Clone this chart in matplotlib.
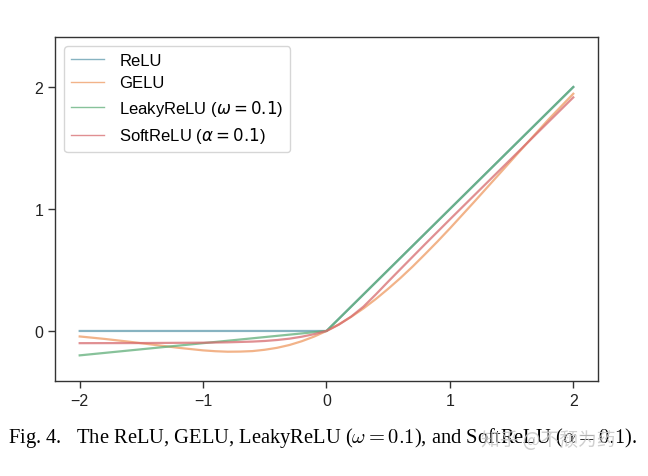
import matplotlib
matplotlib.use("Agg")
import matplotlib.pyplot as plt

# Data
relu_x = [-2, 0, 2]
relu_y = [0, 0, 2]

gelu_x = [-2.0, -1.8, -1.6, -1.4, -1.2, -1.0, -0.9, -0.8, -0.7, -0.6, -0.5, -0.4, -0.3,
          -0.2, -0.1, 0.0, 0.1, 0.2, 0.3, 0.4, 0.5, 0.6, 0.7, 0.8, 0.9, 1.0, 1.2, 1.4,
          1.6, 1.8, 2.0]
gelu_y = [-0.045, -0.065, -0.088, -0.113, -0.138, -0.159, -0.166, -0.170, -0.169, -0.165,
          -0.154, -0.138, -0.115, -0.084, -0.046, 0.0, 0.054, 0.116, 0.185, 0.262, 0.346,
          0.435, 0.530, 0.631, 0.734, 0.841, 1.062, 1.287, 1.512, 1.735, 1.945]

leaky_x = [-2, 0, 2]
leaky_y = [-0.2, 0, 2]

soft_x = [-2.0, -1.5, -1.0, -0.8, -0.6, -0.5, -0.4, -0.3, -0.2, -0.1, 0.0, 0.1, 0.2, 0.3,
          0.4, 0.5, 0.6, 0.8, 1.0, 1.5, 2.0]
soft_y = [-0.100, -0.099, -0.096, -0.093, -0.087, -0.082, -0.074, -0.063, -0.047, -0.026,
          0.0, 0.052, 0.118, 0.200, 0.300, 0.405, 0.508, 0.713, 0.915, 1.415, 1.915]

labels = ["ReLU", "GELU", r"LeakyReLU ($\omega = 0.1$)", r"SoftReLU ($\alpha = 0.1$)"]
colors = ["#5f9aad", "#ee9a62", "#5fae78", "#d66a6e"]

xticks = [-2, -1, 0, 1, 2]
yticks = [0, 1, 2]

plt.rcParams['font.family'] = ['Liberation Sans', 'DejaVu Sans']

fig = plt.figure(figsize=(6.48, 4.77), dpi=100)
ax = fig.add_axes([0.0849, 0.1992, 0.8379, 0.7211])

series = [(relu_x, relu_y), (gelu_x, gelu_y), (leaky_x, leaky_y), (soft_x, soft_y)]
for (xs, ys), lab, c in zip(series, labels, colors):
    ax.plot(xs, ys, color=c, alpha=0.75, lw=1.6, label=lab)

ax.set_xlim(-2.2, 2.2)
ax.set_ylim(-0.41, 2.41)
ax.set_xticks(xticks)
ax.set_yticks(yticks)
ax.set_xticklabels([str(t).replace('-', '\u2212') for t in xticks])
ax.set_yticklabels([str(t) for t in yticks])
ax.tick_params(direction='out', length=5, width=1, colors='#333333', labelsize=11.5, labelcolor='#222222')
for s in ax.spines.values():
    s.set_color('#333333')
    s.set_linewidth(1.0)

leg = ax.legend(loc='upper left', fontsize=12, frameon=True, fancybox=True,
                handlelength=2.0, handletextpad=0.9, borderaxespad=0.55, labelspacing=0.45)
for h in leg.get_lines():
    h.set_linewidth(1.0)
leg.get_frame().set_edgecolor('#cccccc')

fig.text(0.012, 0.082,
         r"Fig. 4.   The ReLU, GELU, LeakyReLU ($\omega = 0.1$), and SoftReLU ($\alpha = 0.1$).",
         fontsize=14.8, family='Liberation Serif', math_fontfamily='cm', va='center', ha='left')

fig.text(0.742, 0.076, "知乎 @不颓为药", fontsize=13.5,
         family=['Noto Sans CJK SC', 'DejaVu Sans'], color='#c8c8c8', alpha=0.85,
         va='center', ha='left')

fig.savefig("out.png", dpi=100)
